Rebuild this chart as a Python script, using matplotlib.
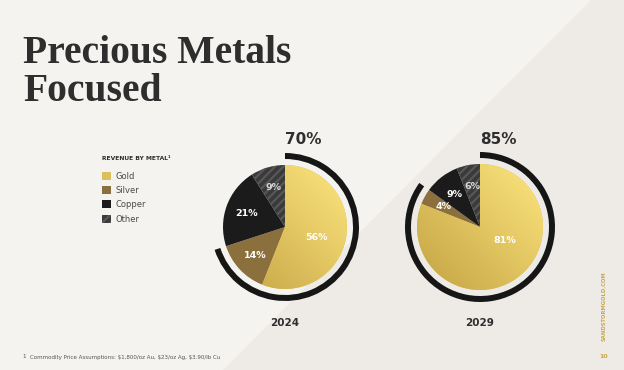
import numpy as np
import matplotlib
matplotlib.use('Agg')
import matplotlib.pyplot as plt
from matplotlib.patches import Wedge
from matplotlib.colors import LinearSegmentedColormap

# ==============================================================================
# Data
#
metals = ['Gold', 'Silver', 'Copper', 'Other']
years = ['2024', '2029']
revenue_2024 = [56, 14, 21, 9]
revenue_2029 = [81, 4, 9, 6]
precious_share = [70, 85]
title_lines = ['Precious Metals', 'Focused']
footnote = 'Commodity Price Assumptions: $1,800/oz Au, $23/oz Ag, $3.90/lb Cu'

# ==============================================================================
# Styles
#
W, H = 624, 370
BG_LIGHT = '#f4f3f0'
BG_DARK = '#eeebe6'
TEXT_COLOR = '#2e2e2e'
GOLD_ACCENT = '#c9a84a'
SLICE_COLORS = ['#dcc05f', '#8b6f3c', '#1b1b1b', '#3a3a3a']
GOLD_LIGHT = '#fee67e'
GOLD_DARK = '#c3a343'
RING_COLOR = '#161616'
NUM_FONT = 'DejaVu Sans'

plt.rcParams['hatch.linewidth'] = 1.6

fig = plt.figure(figsize=(W/100, H/100), dpi=100, facecolor=BG_LIGHT)
ax = fig.add_axes([0, 0, 1, 1])
ax.set_facecolor(BG_LIGHT)
                                                       # diagonal background
ax.fill([591, W, W, 223], [H, H, 0, 0], color=BG_DARK, zorder=0, lw=0)

gold_cmap = LinearSegmentedColormap.from_list('gold', [GOLD_DARK, GOLD_LIGHT])

pies = [
    (revenue_2024, (285, H - 227), 62),
    (revenue_2029, (480, H - 227), 63),
]
legend_handles = None
for index, (values, center, radius) in enumerate(pies):
    wedges, texts, autotexts = ax.pie(
        values, labels=metals, colors=SLICE_COLORS, startangle=90,
        counterclock=False, center=center, radius=radius, frame=True,
        autopct='%d%%', pctdistance=0.66, labeldistance=None,
        wedgeprops=dict(linewidth=0),
        textprops=dict(color='white', fontsize=6.8, fontweight='bold',
                       family=NUM_FONT),
    )
    wedges[3].set_hatch('////')
    wedges[3].set_edgecolor('#575757')
    autotexts[3].set_color('#d8d8d8')
    for t in autotexts:
        t.set_zorder(5)
                                             # large gold slice label sits higher
    if values[0] > 70:
        angle = np.radians(-29)
        autotexts[0].set_position((center[0] + 0.45*radius*np.cos(angle),
                                   center[1] + 0.45*radius*np.sin(angle)))
    else:
        angle = np.radians(-18)
        autotexts[0].set_position((center[0] + 0.53*radius*np.cos(angle),
                                   center[1] + 0.53*radius*np.sin(angle)))
                                                               # gold gradient
    gx, gy = np.meshgrid(np.linspace(0, 1, 200), np.linspace(0, 1, 200))
    gradient = (gx + gy) / 2
    image = ax.imshow(
        gradient, cmap=gold_cmap, origin='lower', zorder=2,
        extent=(center[0] - radius, center[0] + radius,
                center[1] - radius, center[1] + radius),
        interpolation='bilinear',
    )
    image.set_clip_path(wedges[0])
                                                                 # outer ring
    ring = Wedge(center, radius + 12, 90 - 3.6*precious_share[index], 90,
                 width=6, facecolor=RING_COLOR, lw=0, zorder=3)
    ax.add_patch(ring)
    ax.text(center[0] + 18, H - 140, '%d%%' % precious_share[index],
            ha='center', va='center', fontsize=11, fontweight='bold',
            color=TEXT_COLOR, family=NUM_FONT)
    ax.text(center[0], H - 323, years[index], ha='center', va='center',
            fontsize=7.5, fontweight='bold', color=TEXT_COLOR, family=NUM_FONT)
    if legend_handles is None:
        legend_handles = wedges

# ==============================================================================
# Legend and texts
#
ax.text(102, H - 158, 'REVENUE BY METAL¹', ha='left', va='center',
        fontsize=4.3, fontweight='bold', color=TEXT_COLOR, family=NUM_FONT)
ax.legend(
    legend_handles, metals, loc='upper left', bbox_to_anchor=(102/W, 1 - 172/H),
    frameon=False, fontsize=6, handlelength=1.1, handleheight=1.1,
    handletextpad=0.5, labelspacing=0.62, borderpad=0, borderaxespad=0,
    labelcolor='#4a4a4a',
)

for line, baseline in zip(title_lines, [63, 101]):
    ax.text(23, H - baseline, line, ha='left', va='baseline',
            fontsize=28.5, fontweight='bold', family='Liberation Serif',
            color=TEXT_COLOR)

ax.text(22, H - 357, '1', ha='left', va='center', fontsize=4,
        color='#555555', family=NUM_FONT)
ax.text(30, H - 357, footnote, ha='left', va='center', fontsize=4,
        color='#555555', family=NUM_FONT)
ax.text(604, H - 306, 'SANDSTORMGOLD.COM', rotation=90, ha='center',
        va='center', fontsize=3.8, fontweight='bold', color=GOLD_ACCENT,
        family=NUM_FONT)
ax.text(604, H - 357, '10', ha='center', va='center', fontsize=4.5,
        fontweight='bold', color=GOLD_ACCENT, family=NUM_FONT)

ax.set_xlim(0, W)
ax.set_ylim(0, H)
ax.set_aspect('auto')
ax.axis('off')

plt.savefig('out.png', dpi=100, facecolor=BG_LIGHT)
